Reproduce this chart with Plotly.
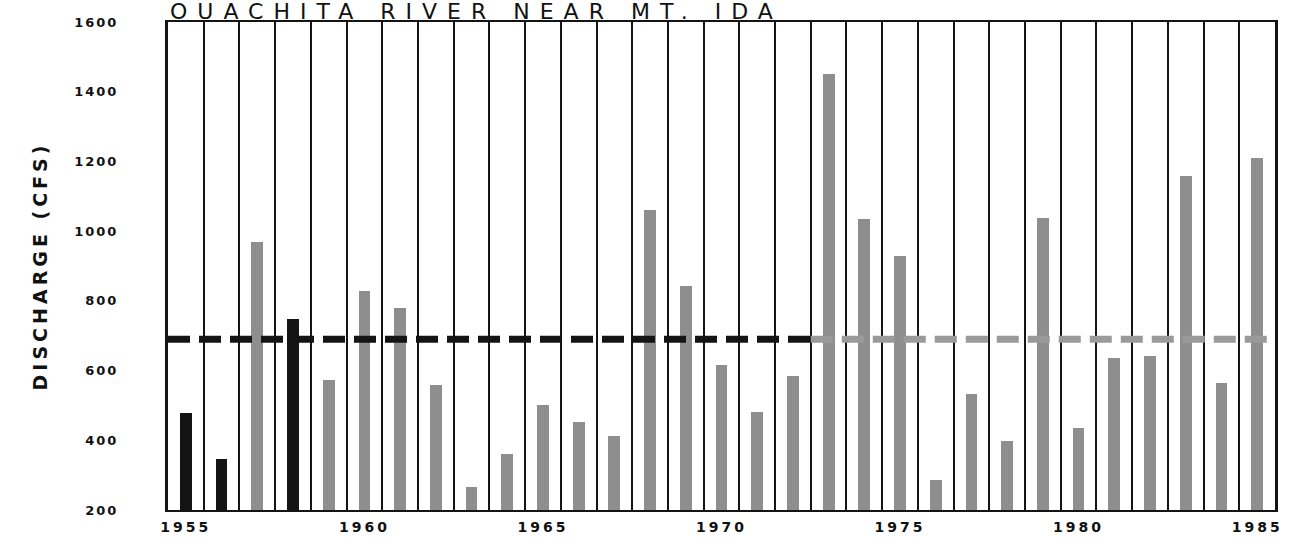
import plotly.graph_objects as go

# ---- data ----
years = list(range(1955, 1986))
discharge = [478, 345, 970, 748, 572, 828, 780, 560, 267, 360,
             500, 452, 412, 1060, 842, 617, 481, 585, 1450, 1035,
             928, 286, 533, 397, 1038, 435, 637, 643, 1158, 565, 1210]
black_years = [1955, 1956, 1958]
mean_discharge = 690
mean_split_year = 1972.5

title_text = "OUACHITA RIVER NEAR MT. IDA"
y_title = "DISCHARGE (CFS)"
x_tick_vals = [1955, 1960, 1965, 1970, 1975, 1980, 1985]
y_tick_vals = [200, 400, 600, 800, 1000, 1200, 1400, 1600]

BLACK = "#141414"
GRAY = "#8e8e8e"


def spaced(txt, px):
    return '<span style="letter-spacing:%dpx">%s</span>' % (px, txt)


colors = [BLACK if y in black_years else GRAY for y in years]

fig = go.Figure()
fig.add_trace(go.Bar(
    x=years, y=[v - 200 for v in discharge], base=200,
    width=0.33, marker=dict(color=colors, line=dict(width=0)),
    showlegend=False, hoverinfo="x+y",
))

x0 = years[0] - 0.5
x1 = years[-1] + 0.5
fig.add_trace(go.Scatter(
    x=[x0, mean_split_year], y=[mean_discharge, mean_discharge],
    mode="lines", line=dict(color=BLACK, width=7, dash="22px,9px"),
    showlegend=False, hoverinfo="skip",
))
fig.add_trace(go.Scatter(
    x=[mean_split_year, x1], y=[mean_discharge, mean_discharge],
    mode="lines", line=dict(color="#9a9a9a", width=7, dash="22px,9px"),
    showlegend=False, hoverinfo="skip",
))

fig.update_layout(
    width=1301, height=540,
    margin=dict(l=168, r=26, t=22, b=30),
    paper_bgcolor="white", plot_bgcolor="white",
    font=dict(family="DejaVu Sans", color="#111"),
    bargap=0,
)
fig.update_xaxes(
    range=[x0, x1],
    tickvals=x_tick_vals,
    ticktext=[spaced(str(v), 3) for v in x_tick_vals],
    tickfont=dict(family="DejaVu Sans", size=14, color="#111", weight="bold"),
    showgrid=False, zeroline=False, automargin=False,
    showline=True, linecolor=BLACK, linewidth=1.5, mirror=True,
    ticks="", ticklabelstandoff=3,
    minor=dict(tick0=0.5, dtick=1, showgrid=True, gridcolor=BLACK, gridwidth=2, ticks=""),
)
fig.update_yaxes(
    range=[200, 1600],
    tickvals=y_tick_vals,
    ticktext=[spaced(str(v), 2) for v in y_tick_vals],
    tickfont=dict(family="DejaVu Sans", size=13, color="#111", weight="bold"),
    showgrid=False, zeroline=False, automargin=False,
    showline=True, linecolor=BLACK, linewidth=3, mirror=True,
    ticks="", ticklabelstandoff=44,
    title=dict(text=spaced(y_title, 4),
               font=dict(size=19, color="#111", weight="bold"), standoff=22),
)
fig.add_annotation(
    text=spaced(title_text, 10), xref="paper", yref="paper", x=0.0, y=1.0,
    xanchor="left", yanchor="bottom", showarrow=False, yshift=-4,
    font=dict(family="DejaVu Sans", size=22, color="#111"),
)

fig.write_html("out.html")
